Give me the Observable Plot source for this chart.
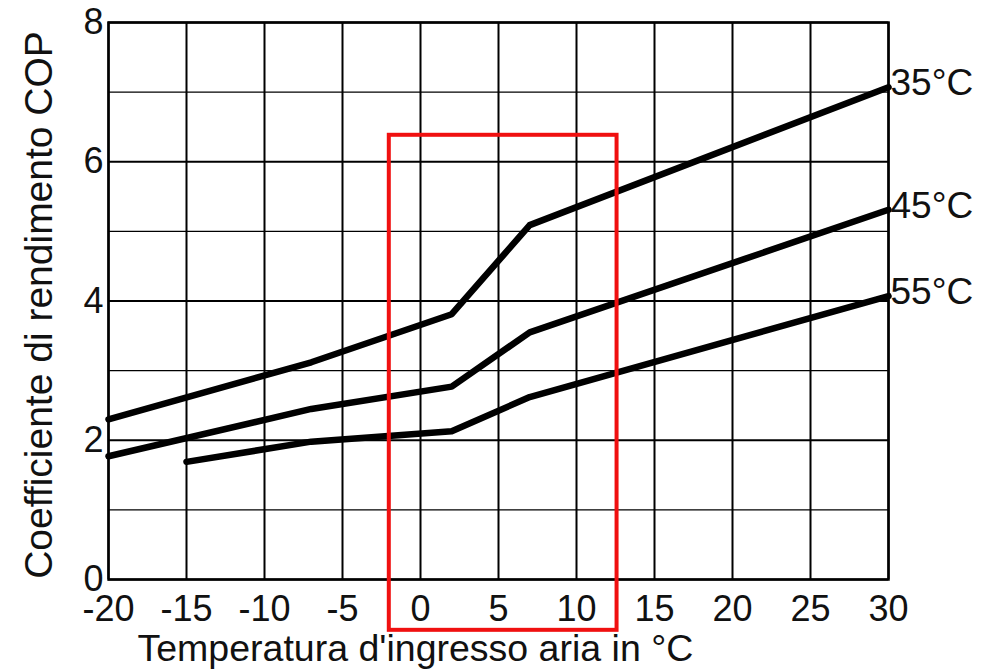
<!DOCTYPE html>
<html><head><meta charset="utf-8">
<script src="https://cdn.jsdelivr.net/npm/d3@7"></script>
<script src="https://cdn.jsdelivr.net/npm/@observablehq/plot@0.6"></script>
<style>body{margin:0;background:#fff} svg{display:block}</style>
</head><body><div id="chart"></div>
<script>
// Data
const seriesNames = ["35°C", "45°C", "55°C"];
const temps35 = [-20, -7, 2, 7, 30];
const cop35   = [2.30, 3.12, 3.81, 5.09, 7.07];
const temps45 = [-20, -7, 2, 7, 30];
const cop45   = [1.77, 2.45, 2.77, 3.55, 5.31];
const temps55 = [-15, -7, 2, 7, 30];
const cop55   = [1.69, 1.98, 2.13, 2.62, 4.07];
const xTicks = [-20, -15, -10, -5, 0, 5, 10, 15, 20, 25, 30];
const yTicks = [0, 2, 4, 6, 8];
const yMinor = [1, 3, 5, 7];
const highlight = [{x1: -2, x2: 12.6, y1: -0.73, y2: 6.38}];
const xTitle = "Temperatura d'ingresso aria in °C";
const yTitle = "Coefficiente di rendimento COP";

const table = [];
[[temps35, cop35], [temps45, cop45], [temps55, cop55]].forEach(([t, c], i) => {
  t.forEach((x, j) => table.push({series: seriesNames[i], t: x, cop: c[j]}));
});
const ends = seriesNames.map(s => {
  const rows = table.filter(d => d.series === s);
  return rows[rows.length - 1];
});

const chart = Plot.plot({
  width: 983, height: 669,
  marginLeft: 108, marginRight: 95, marginTop: 22, marginBottom: 90,
  style: {fontFamily: "'Liberation Sans', Arial, sans-serif", fontSize: "36px", color: "#111", background: "#fff"},
  x: {domain: [-20, 30]},
  y: {domain: [0, 8]},
  marks: [
    Plot.ruleY(yMinor, {stroke: "#000", strokeWidth: 1.4}),
    Plot.ruleY(yTicks, {stroke: "#000", strokeWidth: 2}),
    Plot.ruleX(xTicks, {stroke: "#000", strokeWidth: 2}),
    Plot.frame({stroke: "#000", strokeWidth: 2.5}),
    Plot.axisX(xTicks, {tickSize: 0, tickPadding: 16, tickFormat: d => String(d), label: null, fontSize: 36}),
    Plot.axisY(yTicks, {tickSize: 0, tickPadding: 5, tickFormat: d => String(d), label: null, fontSize: 36}),
    Plot.line(table, {x: "t", y: "cop", z: "series", stroke: "#000", strokeWidth: 6.5, strokeLinejoin: "round"}),
    Plot.text(ends, {x: "t", y: "cop", text: "series", textAnchor: "start", dx: 2, dy: -4, fontSize: 37, fill: "#111"}),
    Plot.rect(highlight, {x1: "x1", x2: "x2", y1: "y1", y2: "y2", fill: "none", stroke: "#f01010", strokeWidth: 4}),
    Plot.text([xTitle], {frameAnchor: "bottom-left", text: d => d, textAnchor: "start", lineAnchor: "middle", dx: 29, dy: 69, fontSize: 37.5, fill: "#111"}),
    Plot.text([yTitle], {frameAnchor: "left", text: d => d, rotate: -90, textAnchor: "middle", lineAnchor: "middle", dx: -69, dy: 4, fontSize: 39, fill: "#111"})
  ]
});
document.getElementById("chart").appendChild(chart);
</script>
</body></html>
